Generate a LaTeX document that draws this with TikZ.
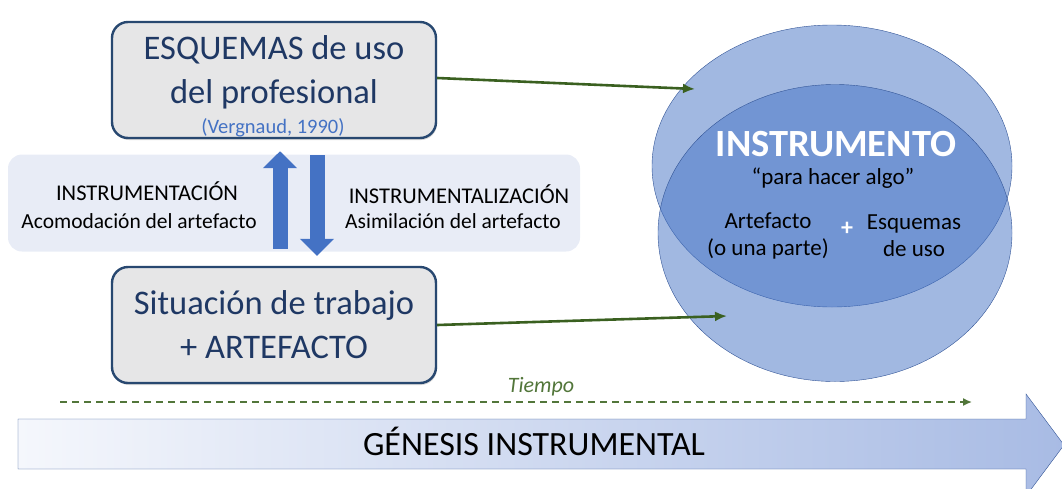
\documentclass[tikz,border=0pt]{standalone}
\usepackage{fontspec}
\setmainfont{Carlito}
\usetikzlibrary{
  positioning,
  arrows.meta,
  shapes.geometric,
  shadows
}
\definecolor{navyish}{RGB}{31,56,100}
\definecolor{boxline}{RGB}{40,72,112}
\definecolor{boxfill}{RGB}{230,230,231}
\definecolor{bandfill}{RGB}{232,236,246}
\definecolor{blueish}{RGB}{68,114,196}
\definecolor{ringline}{RGB}{50,84,150}
\definecolor{greenish}{RGB}{58,96,32}
\definecolor{olive}{RGB}{82,118,58}
\definecolor{paleblue}{RGB}{245,247,252}
\definecolor{deepblue}{RGB}{168,187,228}

\begin{document}
\begin{tikzpicture}[
  x=1pt,
  y=-1pt,
  esquema/.style={
    draw=boxline,
    line width=2.4pt,
    fill=boxfill,
    rounded corners=16pt,
    minimum width=324pt,
    minimum height=116pt,
    align=center,
    text=navyish,
    font=\fontsize{34.5}{44}\selectfont,
    drop shadow={shadow xshift=1pt,shadow yshift=-2pt,opacity=0.3}
  },
  band/.style={
    draw=none,
    fill=bandfill,
    rounded corners=14pt,
    minimum width=572pt,
    minimum height=97pt
  },
  caps/.style={
    font=\fontsize{22.5}{26}\selectfont,
    text=black
  },
  small/.style={
    font=\fontsize{21.5}{26}\selectfont,
    text=black
  },
  ring/.style={
    ellipse,
    draw=ringline,
    thin,
    fill=blueish,
    fill opacity=0.5,
    inner sep=0pt
  },
  inner/.style={
    font=\fontsize{23}{27}\selectfont,
    align=center,
    text=black
  },
  updown/.style={
    blueish,
    line width=15pt,
    -{Triangle[width=33pt,length=17pt]}
  },
  feed/.style={
    greenish,
    line width=2.6pt,
    -{Latex[length=12pt,width=10pt]}
  }
]
\useasboundingbox (0,0) rectangle (1062,488);

% Band and boxes
\node[band] (band) at (294,203) {};
\node[esquema] (esq) at (274,80) {};
\node[align=center, text=navyish, font=\fontsize{34.5}{44}\selectfont] (esqtxt) at (274,72.5) {ESQUEMAS de uso\\del profesional};
\node[text=blueish, font=\fontsize{20.5}{22}\selectfont, anchor=base] (vergnaud) at (273,133) {(Vergnaud, 1990)};
\node[esquema] (sit) at (274,325) {Situación de trabajo\\+ ARTEFACTO};

% Labels in the band
\node[caps] (instr) at (147,191) {INSTRUMENTACIÓN};
\node[small] (acom) at (139,221) {Acomodación del artefacto};
\node[caps] (instrz) at (459,194) {INSTRUMENTALIZACIÓN};
\node[small] (asim) at (453,221) {Asimilación del artefacto};

% Arrows between boxes
\draw[updown] ([xshift=6pt,yshift=17pt]sit.north) -- ([xshift=6pt,yshift=-12pt]esq.south);
\draw[updown] ([xshift=43pt,yshift=-16pt]esq.south) -- ([xshift=43pt,yshift=10pt]sit.north);

% Instrument
\node[ring, minimum width=360pt, minimum height=282pt] (upper) at (832,166) {};
\node[ring, minimum width=354pt, minimum height=297pt] (lower) at (835,233) {};
\node[text=white, font=\fontsize{38.5}{40}\selectfont\bfseries] (instrumento) at (836,144) {INSTRUMENTO};
\node[inner] (para) at (833,178) {“para hacer algo”};
\node[inner] (artefacto) at (768,236) {Artefacto\\(o una parte)};
\node[text=white, font=\fontsize{24}{24}\selectfont\bfseries] (plus) at (847,229) {+};
\node[inner] (esquemas) at (914,236) {Esquemas\\de uso};

% Arrows 1
\coordinate (in1) at (695,89);
\coordinate (in2) at (727,316);
\draw[feed] ([yshift=2pt]esq.east) -- (in1);
\draw[feed] (sit.east) -- (in2);

% Time line
\coordinate (t0) at (60,402);
\coordinate (t1) at (972,402);
\draw[olive, line width=1.5pt, dash pattern=on 7pt off 5pt, -{Latex[length=9pt,width=8pt]}] (t0) -- (t1);
\node[olive, font=\fontsize{22}{24}\selectfont\itshape, anchor=base] (tiempo) at (541,392) {Tiempo};

% Big arrow
\draw[draw=ringline, left color=paleblue, right color=deepblue]
  (18,419) -- (1026,419) -- (1026,394) -- (1064,445) -- (1026,496) -- (1026,469) -- (18,469) -- cycle;
\node[font=\fontsize{34}{36}\selectfont, anchor=base] (genesis) at (534,455) {GÉNESIS INSTRUMENTAL};

\end{tikzpicture}
\end{document}
